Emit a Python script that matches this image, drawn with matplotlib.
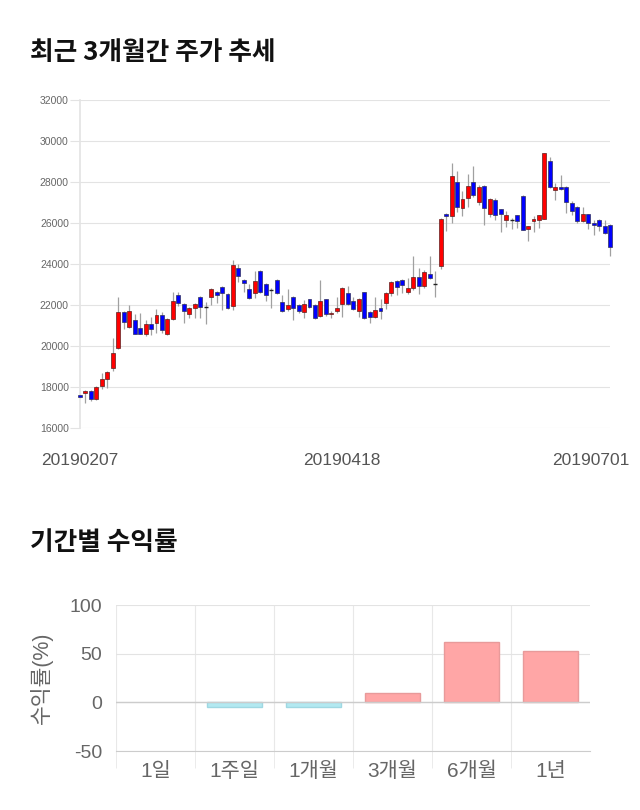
import matplotlib
matplotlib.use('Agg')
import matplotlib.pyplot as plt
from matplotlib.transforms import ScaledTranslation
import numpy as np

plt.rcParams['font.family'] = ['Liberation Sans', 'Noto Sans CJK KR', 'DejaVu Sans']
plt.rcParams['axes.unicode_minus'] = False

# daily candles, 20190207 .. 20190701
opens = [17600, 17700, 17800, 17400, 18050, 18400, 18950, 19900, 21650, 20950,
         21250, 20900, 20600, 21050, 21100, 21500, 20600, 21300, 22500, 22050,
         21550, 21870, 22400, 21900, 22400, 22650, 22900, 22550, 21950, 23800,
         23200, 22800, 22600, 23650, 23000, 22750, 23200, 22150, 21800, 22400,
         22000, 21650, 22280, 22000, 21450, 22280, 21580, 21700, 22030, 22570,
         22200, 21700, 22620, 21640, 21400, 21870, 22100, 22570, 23150, 23230,
         22620, 22830, 23370, 22910, 23510, 23020, 23920, 26440, 26330, 28020,
         26730, 27220, 28020, 27020, 27790, 26440, 27130, 26680, 26160, 26130,
         26370, 27330, 25700, 26080, 26130, 26210, 29040, 27610, 27740, 27770,
         26990, 26800, 26080, 26440, 26000, 26160, 25870, 25920]
closes = [17500, 17800, 17400, 18000, 18400, 18750, 19650, 21650, 21150, 21700,
          20600, 20600, 21050, 20850, 21500, 20800, 21300, 22200, 22100, 21700,
          21870, 22050, 21900, 21900, 22800, 22500, 22600, 21870, 23950, 23400,
          23050, 22350, 23150, 22650, 22500, 22750, 22600, 21700, 22000, 21850,
          21700, 22050, 21900, 21350, 22200, 21550, 21620, 21870, 22840, 22050,
          21800, 22280, 21350, 21400, 21750, 21700, 22570, 23100, 22880, 22990,
          22830, 23370, 22910, 23610, 23320, 23020, 26210, 26330, 28310, 26800,
          27180, 27820, 27370, 27750, 26730, 27170, 26370, 26440, 26400, 26130,
          26110, 25670, 25830, 26190, 26370, 29400, 27770, 27740, 27640, 27010,
          26590, 26080, 26440, 26000, 25920, 25870, 25510, 24830]
highs = [17650, 17850, 17850, 18050, 18700, 18800, 20400, 22400, 21700, 22000,
         21550, 21600, 21250, 21400, 21800, 21650, 21350, 22650, 22650, 22100,
         21900, 22100, 22450, 22150, 22850, 22700, 22950, 22600, 24200, 24000,
         23250, 23000, 23650, 23700, 23050, 22850, 23250, 22500, 22800, 22450,
         22050, 22250, 22300, 22050, 23200, 22300, 21720, 22400, 22900, 22950,
         22400, 22350, 22650, 21700, 22370, 22300, 22650, 23150, 23200, 23250,
         23300, 24400, 23800, 23700, 24370, 23660, 26250, 26500, 28940, 28550,
         27550, 28400, 28760, 27850, 27850, 27200, 27200, 26700, 26600, 26250,
         26400, 27350, 25850, 26350, 26400, 29400, 29240, 27950, 28360, 27800,
         27050, 26850, 26800, 26450, 26170, 26200, 26160, 25950]
lows = [17450, 17200, 17300, 17350, 17900, 17950, 18800, 19850, 20850, 20900,
        20600, 20600, 20500, 20550, 20650, 20650, 20550, 21250, 21950, 21100,
        21350, 21350, 21350, 21050, 22000, 22100, 21750, 21800, 21750, 23100,
        22650, 22300, 22350, 22600, 22200, 21850, 22550, 21650, 21700, 21250,
        21600, 21350, 21850, 21300, 21400, 21450, 21350, 21600, 21400, 22000,
        21750, 21400, 21300, 21100, 21350, 21300, 21800, 22450, 22500, 22600,
        22550, 22750, 22550, 22850, 23250, 22400, 23750, 25600, 26000, 26550,
        26330, 26800, 27250, 26900, 25880, 26300, 26150, 25540, 25800, 25700,
        25750, 25650, 25100, 25550, 25750, 26200, 27700, 27100, 27600, 26480,
        26400, 26000, 26050, 25700, 25430, 25600, 25450, 24370]
date_ticks = [0, 48, 97]
date_labels = ['20190207', '20190418', '20190701']

periods = ['1일', '1주일', '1개월', '3개월', '6개월', '1년']
returns = [0, -4.5, -4.5, 9.5, 61.8, 52.8]

fig = plt.figure(figsize=(6.4, 8.1), dpi=100)

fig.text(30/640, 1-52/810, '최근 3개월간 주가 추세', fontsize=18.5, fontweight='bold',
         family=['Noto Sans CJK KR'], va='center', ha='left', color='#111111')
fig.text(30/640, 1-543/810, '기간별 수익률', fontsize=18.5, fontweight='bold',
         family=['Noto Sans CJK KR'], va='center', ha='left', color='#111111')

# ---- candlestick chart
ax = fig.add_axes([80/640, 1-428/810, 530/640, 328/810])
o = np.array(opens); c = np.array(closes)
h = np.array(highs); l = np.array(lows)
x = np.arange(len(o))
up = c > o
down = c < o
flat = c == o

ax.vlines(x, l, h, color='#a0a0a0', linewidth=0.9, zorder=2, clip_on=False)
ax.bar(x[up], (c-o)[up], bottom=o[up], width=0.72, color='#ff0000',
       edgecolor='#5a2020', linewidth=0.5, zorder=3, clip_on=False)
ax.bar(x[down], (c-o)[down], bottom=o[down], width=0.72, color='#0000ff',
       edgecolor='#30305a', linewidth=0.5, zorder=3, clip_on=False)
ax.hlines(o[flat], x[flat]-0.36, x[flat]+0.36, color='#222222', linewidth=1.0, zorder=3)

ax.set_xlim(0, len(o)-1)
ax.set_ylim(16000, 32000)
ax.set_yticks(np.arange(16000, 32001, 2000))
ax.set_xticks(date_ticks)
ax.set_xticklabels(date_labels)
ax.grid(axis='y', color='#e3e3e3', linewidth=0.8, zorder=0)
ax.set_axisbelow(True)
for s in ['top', 'right', 'bottom']:
    ax.spines[s].set_visible(False)
ax.spines['left'].set_color('#e3e3e3')
ax.spines['left'].set_linewidth(1.2)
ax.tick_params(axis='y', length=7, color='#e3e3e3', labelsize=7.5, labelcolor='#666666', pad=1)
ax.tick_params(axis='x', length=0, labelsize=12.5, labelcolor='#555555', pad=18)
# keep the last date label inside the picture
last = ax.get_xticklabels()[-1]
last.set_transform(last.get_transform() + ScaledTranslation(-0.19, 0, fig.dpi_scale_trans))

# ---- returns bar chart
ax2 = fig.add_axes([116/640, 1-751/810, 474/640, 146/810])
cols = ['#ffa6a6' if v >= 0 else '#b2e9f1' for v in returns]
edges = ['#e89a9a' if v > 0 else ('#9fd8e2' if v < 0 else 'none') for v in returns]
ax2.bar(np.arange(len(periods)), returns, width=0.69, color=cols,
        edgecolor=edges, linewidth=1.0, zorder=3)
ax2.set_xlim(-0.5, len(periods)-0.5)
ax2.set_ylim(-50, 100)
ax2.set_yticks([-50, 0, 50, 100])
ax2.set_xticks(np.arange(len(periods)))
ax2.set_xticklabels(periods)
ax2.set_xticks(np.arange(-0.5, len(periods)-0.5, 1), minor=True)
ax2.grid(axis='y', color='#e3e3e3', linewidth=0.8, zorder=0)
ax2.grid(axis='x', which='minor', color='#e8e8e8', linewidth=0.8, zorder=0)
ax2.axhline(0, color='#cccccc', linewidth=1.0, zorder=4)
ax2.set_axisbelow(True)
for s in ['top', 'right', 'left']:
    ax2.spines[s].set_visible(False)
ax2.spines['bottom'].set_color('#cccccc')
ax2.tick_params(axis='y', length=0, labelsize=14, labelcolor='#666666', pad=10)
ax2.tick_params(axis='x', which='major', length=0, labelsize=15, labelcolor='#666666', pad=8)
ax2.tick_params(axis='x', which='minor', length=12, color='#e8e8e8')
ax2.set_ylabel('수익률(%)', fontsize=15.5, color='#666666', labelpad=12)

fig.savefig('out.png', dpi=100)
